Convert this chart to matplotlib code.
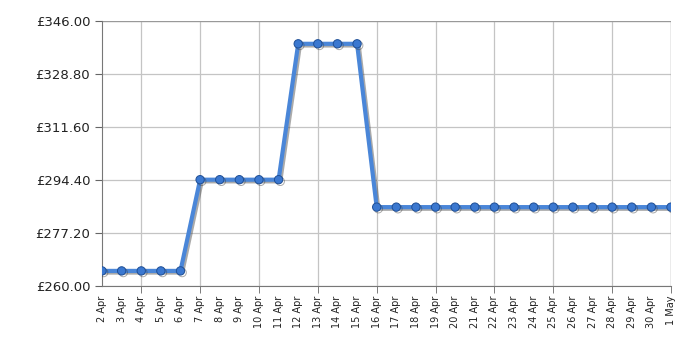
import matplotlib
matplotlib.use("Agg")
import matplotlib.pyplot as plt
import matplotlib.patheffects as pe


days = ["2 Apr", "3 Apr", "4 Apr", "5 Apr", "6 Apr", "7 Apr", "8 Apr", "9 Apr",
        "10 Apr", "11 Apr", "12 Apr", "13 Apr", "14 Apr", "15 Apr", "16 Apr",
        "17 Apr", "18 Apr", "19 Apr", "20 Apr", "21 Apr", "22 Apr", "23 Apr",
        "24 Apr", "25 Apr", "26 Apr", "27 Apr", "28 Apr", "29 Apr", "30 Apr",
        "1 May"]
prices = [264.9] * 5 + [294.5] * 5 + [338.6] * 4 + [285.6] * 16

y_ticks = [260.00, 277.20, 294.40, 311.60, 328.80, 346.00]


def main():
    fig = plt.figure(figsize=(7, 3.5), dpi=100)
    ax = fig.add_axes([102 / 700, 1 - 286 / 350, (671 - 102) / 700, (286 - 21) / 350])

    x = list(range(len(days)))
    ax.plot(x, prices, color="#4a86d8", linewidth=3, marker="o", markersize=6,
            markerfacecolor="#3b78d0", markeredgecolor="#1f4f96", markeredgewidth=0.7,
            path_effects=[pe.SimpleLineShadow(offset=(1.2, -1.2), shadow_color="#444444", alpha=0.45),
                          pe.Normal()], zorder=3)

    ax.set_xlim(0, len(days) - 1)
    ax.set_ylim(y_ticks[0], y_ticks[-1])

    ax.set_yticks(y_ticks)
    ax.set_yticklabels([f"£{v:.2f}" for v in y_ticks], fontsize=9.5, color="#222222")

    # labels on every day, grid + tick marks every 3 days from 4 Apr
    ax.xaxis.remove_overlapping_locs = False
    ax.set_xticks(x)
    ax.set_xticklabels(days, rotation=90, fontsize=7, color="#222222")
    ax.set_xticks(list(range(2, len(days), 3)), minor=True)
    ax.tick_params(axis="x", which="major", length=0, pad=7)
    ax.tick_params(axis="x", which="minor", length=5, color="#666666")
    ax.tick_params(axis="y", length=5, color="#666666")

    ax.grid(True, which="minor", axis="x", color="#c4c4c4", linewidth=0.9)
    ax.grid(True, which="major", axis="y", color="#c4c4c4", linewidth=0.9)
    ax.set_axisbelow(True)
    for side in ["top", "right"]:
        ax.spines[side].set_visible(False)
    for side in ["left", "bottom"]:
        ax.spines[side].set_color("#777777")
    ax.axhline(y_ticks[-1], color="#999999", linewidth=0.9, zorder=1)
    ax.axvline(len(days) - 1, color="#999999", linewidth=0.9, zorder=1)

    fig.savefig("out.png", dpi=100)
    plt.close(fig)


if __name__ == "__main__":
    main()
